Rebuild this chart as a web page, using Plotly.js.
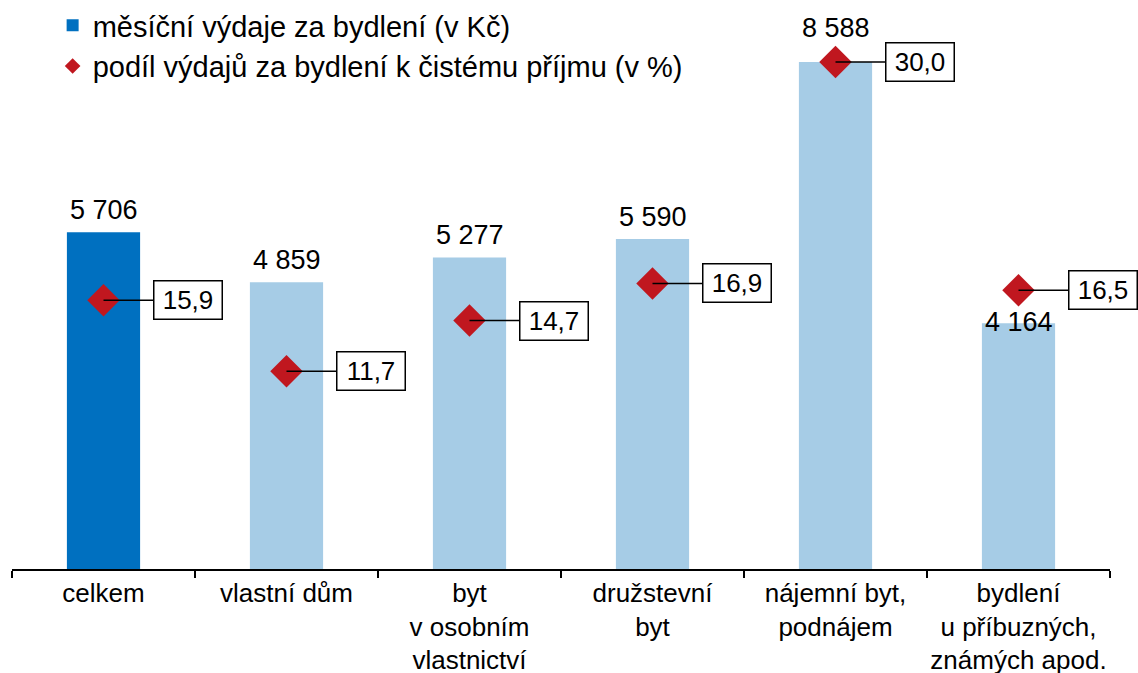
<!DOCTYPE html>
<html>
<head>
<meta charset="utf-8">
<script src="https://cdn.plot.ly/plotly-3.0.1.min.js"></script>
<style>
  html, body { margin: 0; padding: 0; background: #fff; }
  #chart { width: 1138px; height: 673px; }
</style>
</head>
<body>
<div id="chart"></div>
<script>
// categories (x axis) and the two series
const categories = [
    'celkem',
    'vlastní dům',
    'byt<br>v osobním<br>vlastnictví',
    'družstevní<br>byt',
    'nájemní byt,<br>podnájem',
    'bydlení<br>u příbuzných,<br>známých apod.'
];
const expenses = [5706, 4859, 5277, 5590, 8588, 4164];   // Kč per month
const shareOfIncome = [15.9, 11.7, 14.7, 16.9, 30.0, 16.5]; // %

const seriesNames = [
    'měsíční výdaje za bydlení (v Kč)',
    'podíl výdajů za bydlení k čistému příjmu (v %)'
];

const FONT = '"Liberation Sans", Arial, sans-serif';
const DARK_BLUE = '#0070C0';
const LIGHT_BLUE = '#A6CCE6';
const RED = '#C0171F';

// Czech formatting: space thousands, comma decimals
function fmtThousands(v) {
    return String(v).replace(/\B(?=(\d{3})+(?!\d))/g, ' ');
}
function fmtPct(v) {
    return v.toFixed(1).replace('.', ',');
}

const barColors = expenses.map((_, i) => i === 0 ? DARK_BLUE : LIGHT_BLUE);

const bars = {
    type: 'bar',
    name: seriesNames[0],
    x: categories,
    y: expenses,
    width: 0.4,
    marker: { color: barColors },
    hoverinfo: 'skip'
};

const diamonds = {
    type: 'scatter',
    mode: 'markers',
    name: seriesNames[1],
    x: categories,
    y: shareOfIncome,
    yaxis: 'y2',
    marker: { symbol: 'diamond', size: 25, color: RED },
    hoverinfo: 'skip'
};

// value labels above bars; a couple are nudged like in the original
const barLabelShift = [5, 5, 5, 5, 17, -16];
const annotations = [];
categories.forEach((c, i) => {
    annotations.push({
        x: c, y: expenses[i], xref: 'x', yref: 'y',
        text: fmtThousands(expenses[i]),
        showarrow: false,
        yanchor: 'bottom',
        yshift: barLabelShift[i],
        font: { family: FONT, size: 27, color: '#000' }
    });
    // boxed share labels, tied to the diamond with a line
    annotations.push({
        x: c, y: shareOfIncome[i], xref: 'x', yref: 'y2',
        text: fmtPct(shareOfIncome[i]),
        showarrow: true,
        arrowhead: 0,
        arrowwidth: 1.5,
        arrowcolor: '#000',
        standoff: 0,
        ax: 84, ay: 0,
        width: 67, height: 37,
        borderpad: 0,
        borderwidth: 1.5,
        bordercolor: '#000',
        bgcolor: '#fff',
        font: { family: FONT, size: 26, color: '#000' }
    });
});

const layout = {
    width: 1138,
    height: 673,
    margin: { l: 12, r: 28, t: 0, b: 104, autoexpand: false },
    paper_bgcolor: '#fff',
    plot_bgcolor: '#fff',
    font: { family: FONT, size: 26, color: '#000' },
    showlegend: true,
    legend: {
        x: 0.037, y: 1, xanchor: 'left', yanchor: 'top',
        bgcolor: 'rgba(0,0,0,0)',
        itemsizing: 'constant',
        font: { family: FONT, size: 29, color: '#000' }
    },
    xaxis: {
        type: 'category',
        range: [-0.5, categories.length - 0.5],
        automargin: false,
        tickangle: 0,
        showline: true,
        linecolor: '#000',
        linewidth: 1.5,
        ticks: 'outside',
        tickson: 'boundaries',
        ticklen: 7,
        tickwidth: 1.5,
        tickcolor: '#000',
        showgrid: false,
        zeroline: false,
        tickfont: { family: FONT, size: 26, color: '#000' }
    },
    yaxis: {
        range: [0, 9638],
        visible: false,
        automargin: false,
        showgrid: false,
        zeroline: false
    },
    yaxis2: {
        overlaying: 'y',
        side: 'right',
        range: [0, 33.67],
        visible: false,
        automargin: false,
        showgrid: false,
        zeroline: false
    },
    bargap: 0.6,
    annotations: annotations
};

Plotly.newPlot('chart', [bars, diamonds], layout, { displayModeBar: false, staticPlot: true });
</script>
</body>
</html>
